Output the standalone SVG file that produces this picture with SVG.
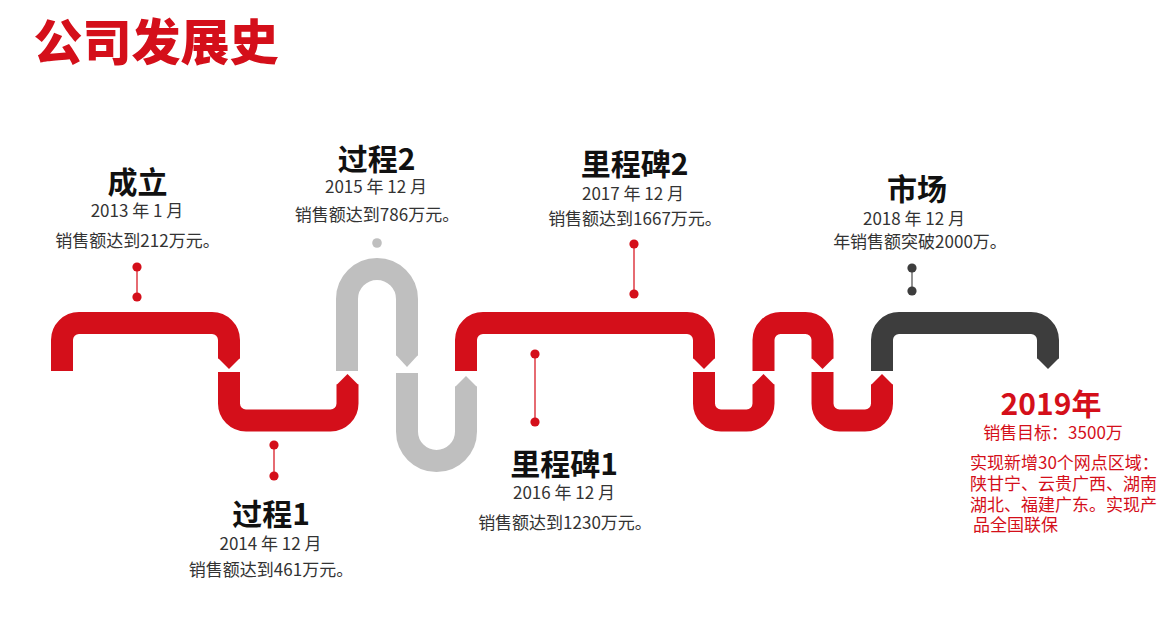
<svg xmlns="http://www.w3.org/2000/svg" width="1170" height="621" viewBox="0 0 1170 621">
<style>
.pr{fill:none;stroke:#d40f1a;stroke-width:22;stroke-linecap:butt;stroke-linejoin:miter}
.pg{fill:none;stroke:#bfbfbf;stroke-width:22;stroke-linecap:butt}
.pd{fill:none;stroke:#3d3d3d;stroke-width:22;stroke-linecap:butt}
.tr{fill:#d40f1a}.tg{fill:#bfbfbf}.td{fill:#3d3d3d}
text{font-family:"Noto Sans CJK SC","Noto Sans",sans-serif}
.h{font-size:30px;font-weight:bold;fill:#111;text-anchor:middle}
.d{font-size:17px;fill:#333;text-anchor:middle}
.lr{stroke:#e0474f;stroke-width:1.6}
.lg{stroke:#777;stroke-width:1.6}
.dr{fill:#d40f1a}.dg{fill:#bfbfbf}.dd{fill:#3d3d3d}
.red{fill:#d40f1a;font-size:17px}
</style>
<rect width="1170" height="621" fill="#fff"/>
<text id="title" x="33.5" y="59.5" style="font-size:49px;font-weight:900;fill:#d40f1a">公司发展史</text>

<g id="pipes">
 <g id="pipe1"><path class="pr" d="M62,371 V340 A17,17 0 0 1 79,323 H212 A17,17 0 0 1 229,340 V358.5"/><polygon class="tr" points="218,358 240,358 229,369"/></g>
 <g id="pipe2"><path class="pr" d="M229,372 V403.5 A17,17 0 0 0 246,420.5 H330.5 A17,17 0 0 0 347.5,403.5 V384.5"/><polygon class="tr" points="336.5,385 358.5,385 347.5,374"/></g>
 <g id="pipe3"><path class="pg" d="M347,371 V299 A30,30 0 0 1 407,299 V355.5"/><polygon class="tg" points="396,355 418,355 407,367"/></g>
 <g id="pipe4"><path class="pg" d="M407,373 V431.5 A29.5,29.5 0 0 0 466,431.5 V386.5"/><polygon class="tg" points="455,387 477,387 466,376"/></g>
 <g id="pipe5"><path class="pr" d="M466,371 V340 A17,17 0 0 1 483,323 H687 A17,17 0 0 1 704,340 V358.5"/><polygon class="tr" points="693,358 715,358 704,369"/></g>
 <g id="pipe6"><path class="pr" d="M704,372 V403.5 A17,17 0 0 0 721,420.5 H746.5 A17,17 0 0 0 763.5,403.5 V384.5"/><polygon class="tr" points="752.5,385 774.5,385 763.5,374"/></g>
 <g id="pipe7"><path class="pr" d="M763.5,371 V340 A17,17 0 0 1 780.5,323 H805.5 A17,17 0 0 1 822.5,340 V358.5"/><polygon class="tr" points="811.5,358 833.5,358 822.5,369"/></g>
 <g id="pipe8"><path class="pr" d="M822.5,372 V403.5 A17,17 0 0 0 839.5,420.5 H865 A17,17 0 0 0 882,403.5 V384.5"/><polygon class="tr" points="871,385 893,385 882,374"/></g>
 <g id="pipe9"><path class="pd" d="M882,371 V340 A17,17 0 0 1 899,323 H1031 A17,17 0 0 1 1048,340 V358.5"/><polygon class="td" points="1037,358 1059,358 1048,369"/></g>
</g>

<g id="connectors">
 <line class="lr" x1="137" y1="267" x2="137" y2="297"/><circle class="dr" cx="137" cy="267" r="4.6"/><circle class="dr" cx="137" cy="297" r="4.6"/>
 <line class="lr" x1="274" y1="445" x2="274" y2="476"/><circle class="dr" cx="274" cy="445" r="4.6"/><circle class="dr" cx="274" cy="476" r="4.6"/>
 <circle class="dg" cx="377" cy="243" r="4.8"/>
 <line class="lr" x1="535" y1="354" x2="535" y2="422"/><circle class="dr" cx="535" cy="354" r="4.6"/><circle class="dr" cx="535" cy="422" r="4.6"/>
 <line class="lr" x1="634" y1="244" x2="634" y2="294"/><circle class="dr" cx="634" cy="244" r="4.6"/><circle class="dr" cx="634" cy="294" r="4.6"/>
 <line class="lg" x1="912" y1="268" x2="912" y2="291"/><circle class="dd" cx="912" cy="268" r="4.6"/><circle class="dd" cx="912" cy="291" r="4.6"/>
</g>

<g id="m2013">
 <text class="h" x="137.5" y="193">成立</text>
 <text class="d" x="137" y="217">2013 年 1 月</text>
 <text class="d" x="137.5" y="247">销售额达到212万元。</text>
</g>
<g id="m2014">
 <text class="h" x="271" y="525">过程1</text>
 <text class="d" x="270.5" y="550">2014 年 12 月</text>
 <text class="d" x="271" y="576">销售额达到461万元。</text>
</g>
<g id="m2015">
 <text class="h" x="376.5" y="170">过程2</text>
 <text class="d" x="376" y="193">2015 年 12 月</text>
 <text class="d" x="377" y="221">销售额达到786万元。</text>
</g>
<g id="m2016">
 <text class="h" x="564" y="475">里程碑1</text>
 <text class="d" x="564" y="499">2016 年 12 月</text>
 <text class="d" x="565" y="529">销售额达到1230万元。</text>
</g>
<g id="m2017">
 <text class="h" x="634.5" y="175">里程碑2</text>
 <text class="d" x="633" y="200">2017 年 12 月</text>
 <text class="d" x="635" y="225">销售额达到1667万元。</text>
</g>
<g id="m2018">
 <text class="h" x="917" y="200">市场</text>
 <text class="d" x="914" y="225">2018 年 12 月</text>
 <text class="d" x="920" y="247.5">年销售额突破2000万。</text>
</g>
<g id="m2019">
 <text x="1051" y="415" style="font-size:30px;font-weight:bold;fill:#d40f1a;text-anchor:middle">2019年</text>
 <text class="red" x="1053" y="439" text-anchor="middle">销售目标：3500万</text>
 <text class="red" x="970" y="469">实现新增30个网点区域：</text>
 <text class="red" x="970" y="490">陕甘宁、云贵广西、湖南</text>
 <text class="red" x="970" y="511">湖北、福建广东。实现产</text>
 <text class="red" x="973" y="531">品全国联保</text>
</g>
</svg>
